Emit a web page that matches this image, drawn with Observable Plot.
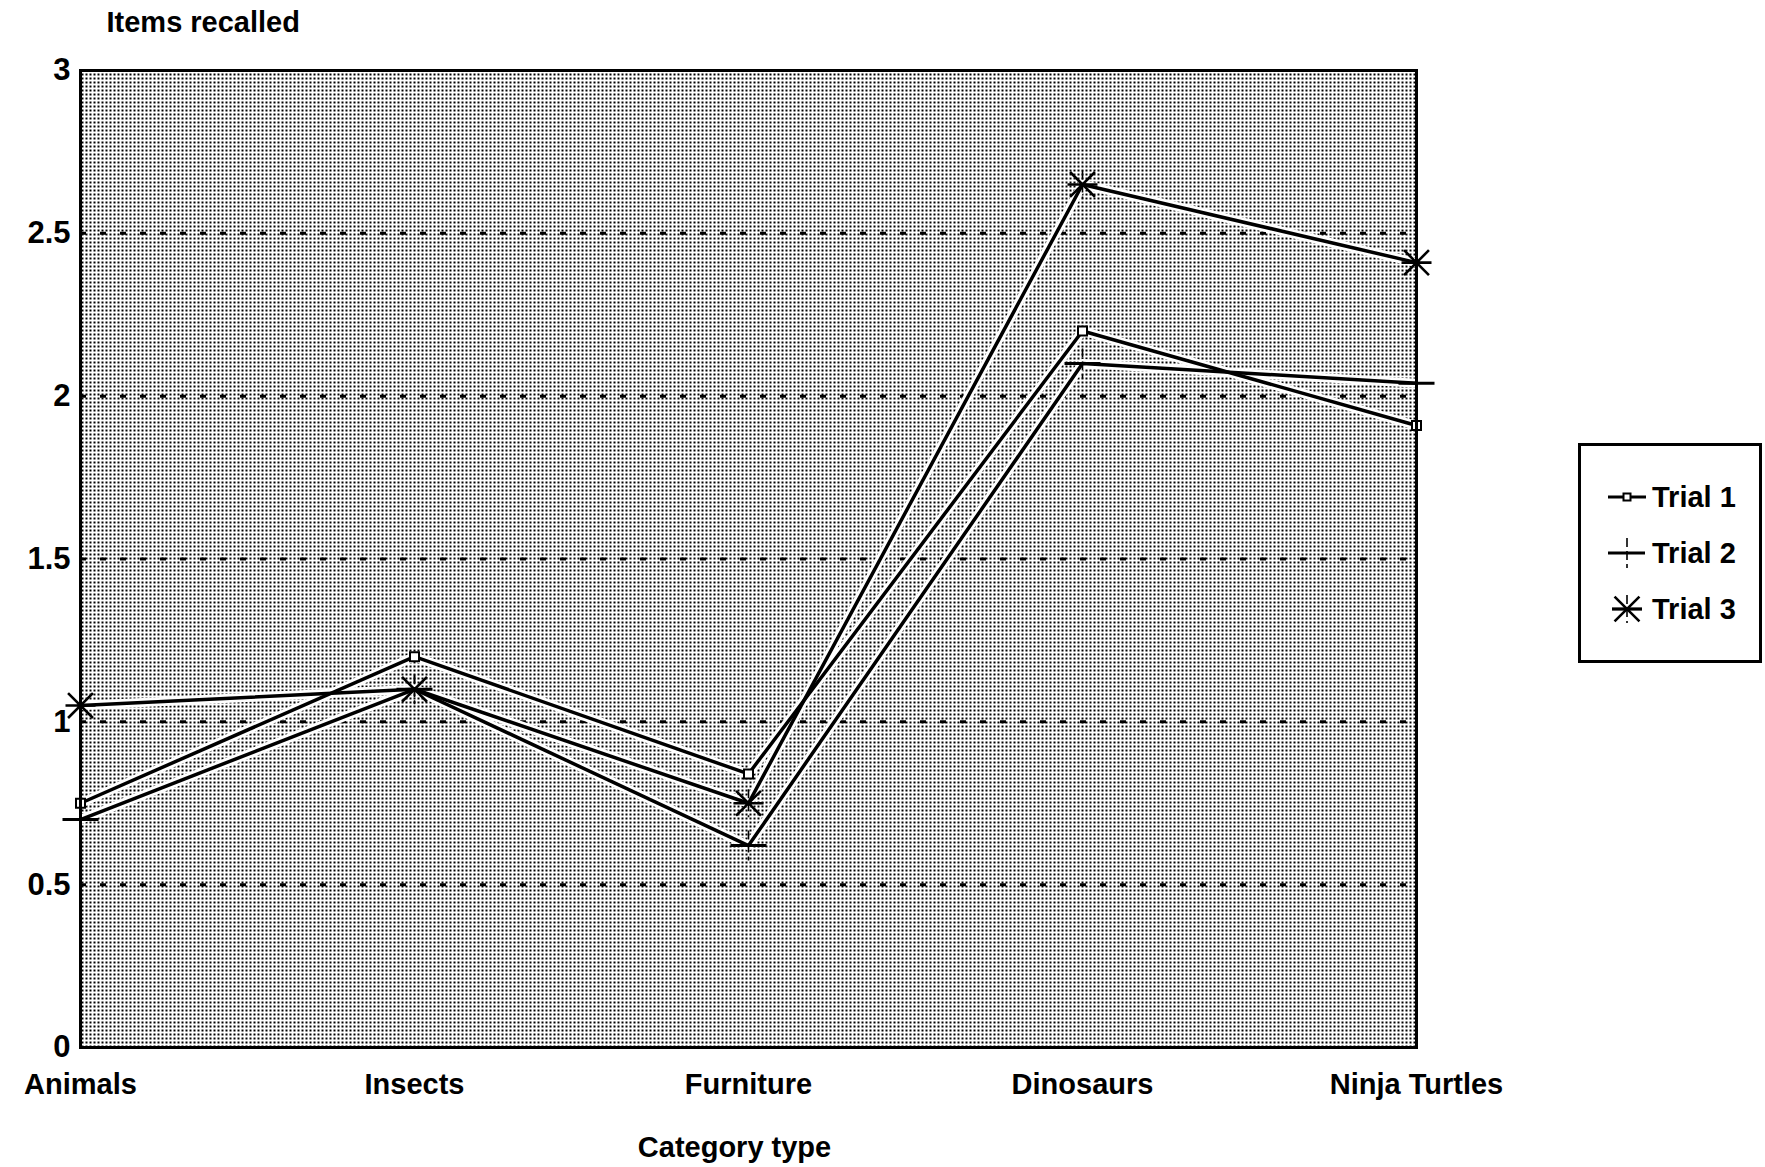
<!DOCTYPE html>
<html>
<head>
<meta charset="utf-8">
<script src="https://cdn.jsdelivr.net/npm/d3@7"></script>
<script src="https://cdn.jsdelivr.net/npm/@observablehq/plot@0.6"></script>
<style>
  body { margin: 0; background: #fff; }
  #chart { position: relative; width: 1765px; height: 1167px; font-family: "Liberation Sans", Arial, sans-serif; font-weight: bold; }
  #legend { position: absolute; left: 1578px; top: 443px; }
</style>
</head>
<body>
<div id="chart"></div>
<script>
// Mean number of items recalled per category, for three trials
const categories = ["Animals", "Insects", "Furniture", "Dinosaurs", "Ninja Turtles"];
const trialNames = ["Trial 1", "Trial 2", "Trial 3"];
const trial1 = [0.75, 1.2, 0.84, 2.2, 1.91];
const trial2 = [0.70, 1.1, 0.62, 2.1, 2.04];
const trial3 = [1.05, 1.1, 0.75, 2.65, 2.41];
const yTicks = [0, 0.5, 1, 1.5, 2, 2.5, 3];
const gridValues = [0.5, 1, 1.5, 2, 2.5];

const series = [trial1, trial2, trial3];
const rows = [];
trialNames.forEach((name, i) =>
  categories.forEach((c, j) => rows.push({trial: name, category: c, value: series[i][j]}))
);
const ofTrial = name => rows.filter(d => d.trial === name);

// Custom marker shapes (size = π r², so r is recovered from it)
const rad = size => Math.sqrt(size / Math.PI);
const squareSym = {draw(ctx, size) { const r = rad(size); ctx.rect(-r, -r, 2 * r, 2 * r); }};
const hBar = {draw(ctx, size) { const r = rad(size); ctx.moveTo(-r, 0); ctx.lineTo(r, 0); }};
const vBar = {draw(ctx, size) { const r = rad(size); ctx.moveTo(0, -r); ctx.lineTo(0, r); }};
const starArms = {draw(ctx, size) {
  const r = rad(size), d = r * 0.83;
  ctx.moveTo(-r, 0); ctx.lineTo(r, 0);
  ctx.moveTo(-d, -d); ctx.lineTo(d, d);
  ctx.moveTo(-d, d); ctx.lineTo(d, -d);
}};

const markerMarks = (data) => ({
  "Trial 1": [Plot.dot(data, {x: "category", y: "value", symbol: squareSym, r: 4.5, fill: "#fff", stroke: "#000", strokeWidth: 2})],
  "Trial 2": [
    Plot.dot(data, {x: "category", y: "value", symbol: hBar, r: 18, stroke: "#000", strokeWidth: 3}),
    Plot.dot(data, {x: "category", y: "value", symbol: vBar, r: 15, stroke: "#000", strokeWidth: 1.6, strokeDasharray: "9,4"})
  ],
  "Trial 3": [
    Plot.dot(data, {x: "category", y: "value", symbol: starArms, r: 15, stroke: "#000", strokeWidth: 2.6}),
    Plot.dot(data, {x: "category", y: "value", symbol: vBar, r: 14, stroke: "#000", strokeWidth: 1.6, strokeDasharray: "9,4"})
  ]
});

const chart = Plot.plot({
  width: 1765,
  height: 1167,
  marginLeft: 80,
  marginRight: 349,
  marginTop: 70,
  marginBottom: 120,
  style: {fontFamily: "'Liberation Sans', Arial, sans-serif", fontSize: "29px", fontWeight: "bold", color: "#000", background: "#fff", overflow: "visible"},
  x: {type: "point", domain: categories, padding: 0, label: null},
  y: {domain: [0, 3], label: null},
  marks: [
    Plot.frame({fill: "url(#halftone)"}),
    Plot.ruleY(gridValues, {stroke: "#000", strokeWidth: 3, strokeDasharray: "6,14"}),
    // white casing under each series line
    Plot.line(rows, {x: "category", y: "value", z: "trial", stroke: "#fff", strokeWidth: 9}),
    Plot.line(rows, {x: "category", y: "value", z: "trial", stroke: "#000", strokeWidth: 3.5}),
    ...trialNames.flatMap(name => markerMarks(ofTrial(name))[name]),
    Plot.frame({stroke: "#000", strokeWidth: 3}),
    Plot.axisY({ticks: yTicks, tickSize: 0, tickPadding: 10, tickFormat: d => String(d), fontSize: 31}),
    Plot.axisX({tickSize: 0, tickPadding: 26}),
    Plot.text(["Items recalled"], {text: d => d, frameAnchor: "top-left", dx: 26, dy: -59, textAnchor: "start"}),
    Plot.text(["Category type"], {text: d => d, frameAnchor: "bottom", dx: -14, dy: 109})
  ]
});

// Halftone fill for the plotting area
const defs = d3.select(chart).insert("defs", ":first-child");
const pat = defs.append("pattern")
  .attr("id", "halftone").attr("width", 4).attr("height", 4)
  .attr("patternUnits", "userSpaceOnUse");
pat.append("rect").attr("width", 4).attr("height", 4).attr("fill", "#fff");
pat.append("rect").attr("x", 1).attr("y", 1).attr("width", 2).attr("height", 2).attr("fill", "#000");

const root = document.getElementById("chart");
root.appendChild(chart);

// Legend box
const lw = 184, lh = 220;
const legend = d3.create("svg").attr("id", "legend").attr("width", lw).attr("height", lh);
legend.append("rect").attr("x", 1.5).attr("y", 1.5).attr("width", lw - 3).attr("height", lh - 3)
  .attr("fill", "#fff").attr("stroke", "#000").attr("stroke-width", 3);
const legendSymbols = {
  "Trial 1": [{type: squareSym, r: 3.5, sw: 2, fill: "#fff"}],
  "Trial 2": [{type: vBar, r: 15, sw: 1.6, dash: "9,4"}],
  "Trial 3": [{type: starArms, r: 15, sw: 2.6}, {type: vBar, r: 14, sw: 1.6, dash: "9,4"}]
};
const lineLen = {"Trial 1": [30, 68], "Trial 2": [30, 67], "Trial 3": [34, 64]};
trialNames.forEach((name, i) => {
  const g = legend.append("g").attr("transform", `translate(0,${54 + i * 56})`);
  g.append("line").attr("x1", lineLen[name][0]).attr("x2", lineLen[name][1])
    .attr("stroke", "#000").attr("stroke-width", 3);
  legendSymbols[name].forEach(s => {
    g.append("path")
      .attr("transform", "translate(49,0)")
      .attr("d", d3.symbol(s.type, Math.PI * s.r * s.r)())
      .attr("fill", s.fill || "none")
      .attr("stroke", "#000")
      .attr("stroke-width", s.sw)
      .attr("stroke-dasharray", s.dash || null);
  });
  g.append("text").attr("x", 74).attr("dy", "0.36em")
    .attr("font-family", "'Liberation Sans', Arial, sans-serif")
    .attr("font-weight", "bold").attr("font-size", 29)
    .text(name);
});
root.appendChild(legend.node());
</script>
</body>
</html>
